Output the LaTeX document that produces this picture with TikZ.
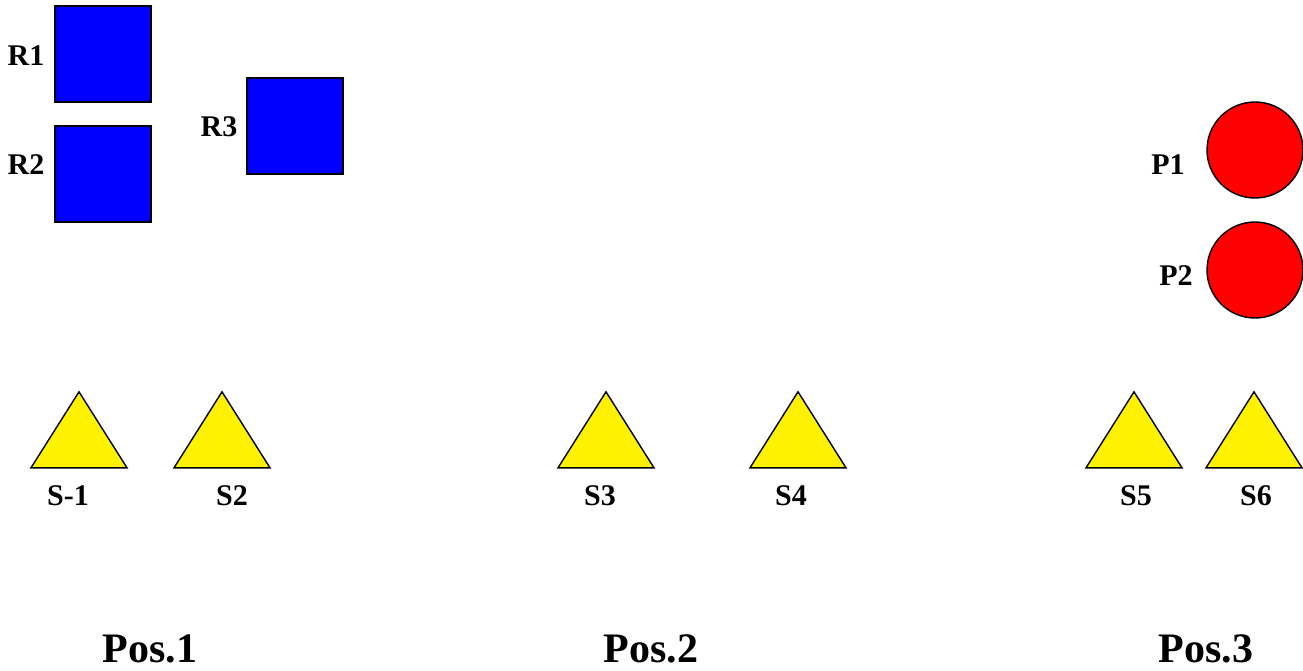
\documentclass[tikz,border=0pt]{standalone}
\usepackage{fontspec}
\setmainfont{Liberation Serif}
\usepackage{tikz}
\usetikzlibrary{shapes.geometric,positioning}

\begin{document}
\begin{tikzpicture}[
    x=1pt, y=-1pt,
    rack/.style={rectangle, draw=black, fill=blue, line width=1.4pt, minimum size=96pt, inner sep=0pt},
    pump/.style={circle, draw=black, fill=red, line width=1.4pt, minimum size=96pt, inner sep=0pt},
    sensor/.style={isosceles triangle, shape border rotate=90, isosceles triangle stretches, draw=black, fill=yellow, line width=1.4pt, minimum width=96pt, minimum height=76pt, inner sep=0pt},
    tag/.style={font=\fontsize{30}{32}\selectfont\bfseries, inner sep=0pt},
    station/.style={font=\fontsize{42}{45}\selectfont\bfseries, inner sep=0pt}
]
    \useasboundingbox (0,0) rectangle (1303,671);

    % racks
    \node [rack] (r1) at (103,54) {};
    \node [rack] (r2) at (103,174) {};
    \node [rack] (r3) at (295,126) {};
    \node [tag] at (26,56) {R1};
    \node [tag] at (26,165) {R2};
    \node [tag] at (219,127) {R3};

    % pumps
    \node [pump] (p1) at (1255,150) {};
    \node [pump] (p2) at (1255,270) {};
    \node [tag] at (1168,165) {P1};
    \node [tag] at (1176,276) {P2};

    % sensors
    \node [sensor, anchor=apex] (s1) at (79,390) {};
    \node [sensor, anchor=apex] (s2) at (222,390) {};
    \node [sensor, anchor=apex] (s3) at (606,390) {};
    \node [sensor, anchor=apex] (s4) at (798,390) {};
    \node [sensor, anchor=apex] (s5) at (1134,390) {};
    \node [sensor, anchor=apex] (s6) at (1254,390) {};
    \node [tag] at (68,496) {S-1};
    \node [tag] at (232,496) {S2};
    \node [tag] at (600,496) {S3};
    \node [tag] at (791,496) {S4};
    \node [tag] at (1136,496) {S5};
    \node [tag] at (1256,496) {S6};

    % positions
    \node [station] (pos1) at (150,649) {Pos.1};
    \node [station] (pos2) at (651,649) {Pos.2};
    \node [station] (pos3) at (1206,649) {Pos.3};
\end{tikzpicture}
\end{document}
